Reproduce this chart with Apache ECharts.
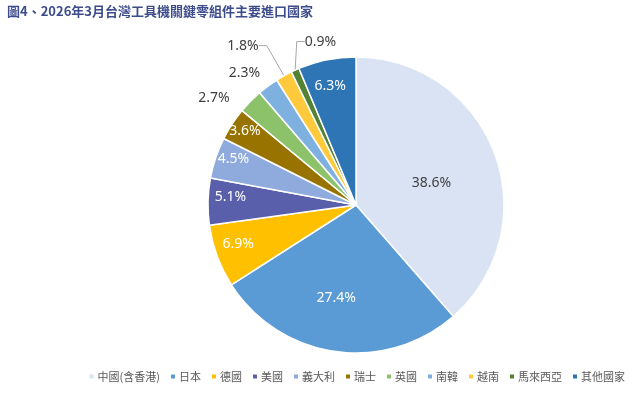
<!DOCTYPE html>
<html><head><meta charset="utf-8">
<script src="https://cdn.jsdelivr.net/npm/echarts@6/dist/echarts.min.js"></script>
<style>html,body{margin:0;padding:0;background:#fff}#c{width:633px;height:393px}</style>
</head><body><div id="c"></div>
<script>
const titleText = '圖4、2026年3月台灣工具機關鍵零組件主要進口國家';
const categories = ['中國(含香港)','日本','德國','美國','義大利','瑞士','英國','南韓','越南','馬來西亞','其他國家'];
const shares = [38.6, 27.4, 6.9, 5.1, 4.5, 3.6, 2.7, 2.3, 1.8, 0.9, 6.3];

const colors = ['#dae3f3','#5b9bd5','#ffc000','#5a5fac','#8faadc','#997300','#8cc26a','#7eb0e0','#ffc93c','#548235','#2e75b6'];
const labelColors = ['#404040','#fff','#fff','#fff','#fff','#fff','#404040','#404040','#404040','#404040','#fff'];
const labelRadius = [0.53,0.64,0.84,0.85,0.885,0.9,1.2,1.17,1.32,1.13,0.82];
const labelShift = [4.5,4,1.7,2.4,2,0.4,-7.6,-3.6,-6.2,12,-1];
const showLine = [false,false,false,false,false,false,false,false,true,true,false];

const CX = 356, CY = 205, R = 148;
const total = shares.reduce((a,b)=>a+b,0);
const mids = [];
let acc = 0;
shares.forEach(v => { mids.push((acc + v/2)/total*360); acc += v; });

const chart = echarts.init(document.getElementById('c'));
const font = "'Noto Sans','Noto Sans CJK TC',sans-serif";
chart.setOption({
  animation: false,
  color: colors,
  title: {
    text: titleText, left: 2, top: 0,
    textStyle: {fontSize: 13, fontWeight: 'bold', color: '#3d4c8c', fontFamily: "'Noto Sans CJK TC','Noto Sans',sans-serif"}
  },
  legend: {
    bottom: 6, right: 3,
    icon: 'rect', itemWidth: 6, itemHeight: 6, itemGap: 9,
    textStyle: {fontSize: 11, color: '#595959', fontFamily: "'Noto Sans CJK TC',sans-serif", padding: [0,0,0,-2]},
    data: categories
  },
  series: [{
    type: 'pie',
    center: [CX, CY], radius: R,
    startAngle: 90, clockwise: true,
    avoidLabelOverlap: false,
    itemStyle: {borderColor: '#fff', borderWidth: 1.5},
    label: {fontSize: 14, fontFamily: font, formatter: p => p.value.toFixed(1) + '%'},
    labelLine: {lineStyle: {color: '#a6a6a6', width: 1}, length: 8, length2: 8},
    data: categories.map((n,i) => ({
      name: n, value: shares[i],
      label: {position: showLine[i] || labelRadius[i] > 1 ? 'outside' : 'inside', color: labelColors[i]},
      labelLine: {show: showLine[i]}
    })),
    labelLayout: function (p) {
      const i = p.dataIndex;
      const a = (mids[i] + labelShift[i]) * Math.PI / 180;
      const r = R * labelRadius[i];
      return {x: CX + r*Math.sin(a), y: CY - r*Math.cos(a), align: 'center', verticalAlign: 'middle'};
    }
  }]
});
</script></body></html>
